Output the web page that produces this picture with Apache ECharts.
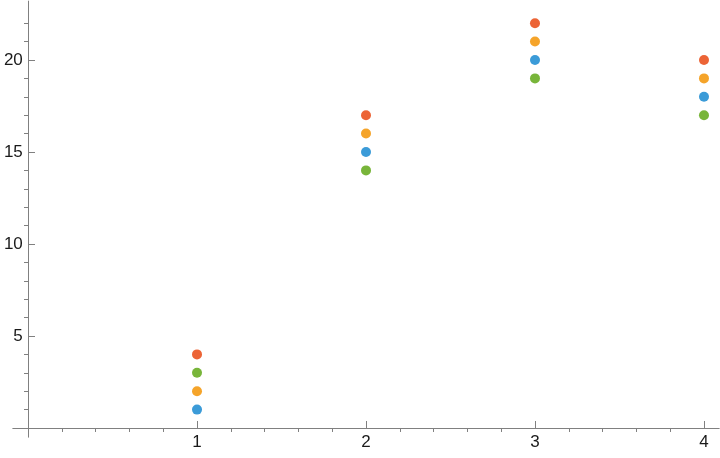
<!DOCTYPE html>
<html>
<head>
<meta charset="utf-8">
<script src="https://cdn.jsdelivr.net/npm/echarts@6/dist/echarts.min.js"></script>
<style>html,body{margin:0;padding:0;background:#fff;}#c{width:720px;height:458px;}</style>
</head>
<body>
<div id="c"></div>
<script>
const xValues = [1, 2, 3, 4];
const series1 = [1, 15, 20, 18];
const series2 = [2, 16, 21, 19];
const series3 = [3, 14, 19, 17];
const series4 = [4, 17, 22, 20];
const xTickLabels = [1, 2, 3, 4];
const yTickLabels = [5, 10, 15, 20];
const colors = ['#3b9bd8', '#f5a42a', '#78b53a', '#ec6436'];

const xMinor = [];
for (let i = 1; i <= 20; i++) { if (i % 5 !== 0) xMinor.push(+(i * 0.2).toFixed(1)); }
const yMinor = [];
for (let i = 1; i <= 22; i++) { if (i % 5 !== 0) yMinor.push(i); }

const axisColor = '#808080';
const labelStyle = { color: '#1a1a1a', fontSize: 17, fontFamily: 'Liberation Sans, Arial, sans-serif' };
const xRange = { min: -0.09, max: 4.09 };
const yRange = { min: -0.5, max: 23.2 };

function pts(vals) { return xValues.map((x, i) => [x, vals[i]]); }

const chart = echarts.init(document.getElementById('c'), null, { renderer: 'canvas' });
chart.setOption({
  animation: false,
  grid: { left: 12.8, right: 0.8, top: 1.1, bottom: 20.8, containLabel: false, outerBoundsMode: 'none' },
  xAxis: [
    { type: 'value', ...xRange, splitLine: { show: false },
      axisLine: { show: true, onZero: true, onZeroAxisIndex: 0, lineStyle: { color: axisColor, width: 1 } },
      axisTick: { show: true, inside: true, length: 7, customValues: xTickLabels, lineStyle: { color: axisColor } },
      axisLabel: { show: true, margin: -3, customValues: xTickLabels, ...labelStyle } },
    { type: 'value', ...xRange, splitLine: { show: false },
      axisLine: { show: false, onZero: true, onZeroAxisIndex: 1 },
      axisTick: { show: true, inside: true, length: 4, customValues: xMinor, lineStyle: { color: axisColor } },
      axisLabel: { show: false } }
  ],
  yAxis: [
    { type: 'value', ...yRange, splitLine: { show: false },
      axisLine: { show: true, onZero: true, onZeroAxisIndex: 0, lineStyle: { color: axisColor, width: 1 } },
      axisTick: { show: true, inside: true, length: 7, customValues: yTickLabels, lineStyle: { color: axisColor } },
      axisLabel: { show: true, margin: -10, customValues: yTickLabels, ...labelStyle } },
    { type: 'value', ...yRange, splitLine: { show: false },
      axisLine: { show: false, onZero: true, onZeroAxisIndex: 1 },
      axisTick: { show: true, inside: true, length: 4, customValues: yMinor, lineStyle: { color: axisColor } },
      axisLabel: { show: false } }
  ],
  series: [series1, series2, series3, series4].map((s, i) => ({
    type: 'scatter', xAxisIndex: 0, yAxisIndex: 0, data: pts(s), symbol: 'circle', symbolSize: 10,
    itemStyle: { color: colors[i], opacity: 1 }, emphasis: { disabled: true }
  }))
});
</script>
</body>
</html>
